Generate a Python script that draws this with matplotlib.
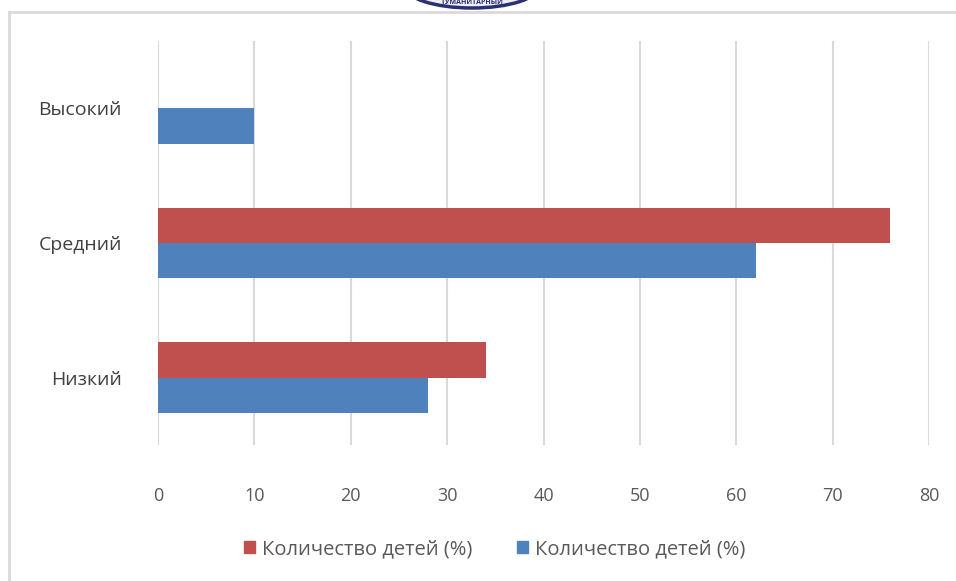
import matplotlib
matplotlib.use("Agg")
import matplotlib.pyplot as plt
from matplotlib.patches import Ellipse, Rectangle
from matplotlib.lines import Line2D

categories = ["Низкий", "Средний", "Высокий"]
red_values = [34, 76, 0]
blue_values = [28, 62, 10]
series_labels = ["Количество детей (%)", "Количество детей (%)"]
xticks = [0, 10, 20, 30, 40, 50, 60, 70, 80]

RED = "#C0504D"
BLUE = "#4F81BD"
GRID = "#D9D9D9"
TXT = "#595959"

plt.rcParams['font.family'] = ['Open Sans', 'DejaVu Sans']

fig = plt.figure(figsize=(9.56, 5.81), dpi=100)
ax = fig.add_axes([158/956, 1-445/581, (929-158)/956, (445-41)/581])

# border lines of the frame
fig.add_artist(Line2D([9/956, 9/956], [0, 1-12/581], transform=fig.transFigure, color=GRID, lw=2))
fig.add_artist(Line2D([9/956, 1], [1-12/581, 1-12/581], transform=fig.transFigure, color=GRID, lw=2))

# partial logo at top
fig.add_artist(Ellipse((472/956, 1+14/581), 135/956, 44/581, transform=fig.transFigure,
                       facecolor="#eeeef5", edgecolor="#2b2f73", lw=2.5, clip_on=False))
fig.text(472/956, 1-3/581, "ГУМАНИТАРНЫЙ", ha="center", va="center", fontsize=5,
         color="#2b2f73", fontweight="bold")

y = list(range(len(categories)))
h = 0.262
ax.barh([v + h/2 for v in y], red_values, height=h, color=RED, lw=0,
        label=series_labels[0], zorder=3)
ax.barh([v - h/2 for v in y], blue_values, height=h, color=BLUE, lw=0,
        label=series_labels[1], zorder=3)

ax.set_xlim(0, 80)
ax.set_ylim(-0.5, 2.5)
ax.set_xticks(xticks)
ax.set_yticks(y)
ax.set_yticklabels(categories)
ax.grid(axis="x", color=GRID, lw=1.5, zorder=0)
for s in ax.spines.values():
    s.set_visible(False)
ax.tick_params(axis="both", length=0, colors=TXT, labelsize=13)
ax.tick_params(axis="x", pad=30)
ax.tick_params(axis="y", pad=26, labelsize=14)
for lab in ax.get_yticklabels():
    lab.set_color("#404040")

handles = [Rectangle((0, 0), 1, 1, color=RED), Rectangle((0, 0), 1, 1, color=BLUE)]
fig.legend(handles, series_labels, loc="center", bbox_to_anchor=(495/956, 1-549/581),
           ncol=2, frameon=False, fontsize=14.5, handlelength=0.55, handleheight=0.55,
           handletextpad=0.35, columnspacing=2.2, labelcolor=TXT)

fig.savefig("out.png", dpi=100, facecolor="white")
